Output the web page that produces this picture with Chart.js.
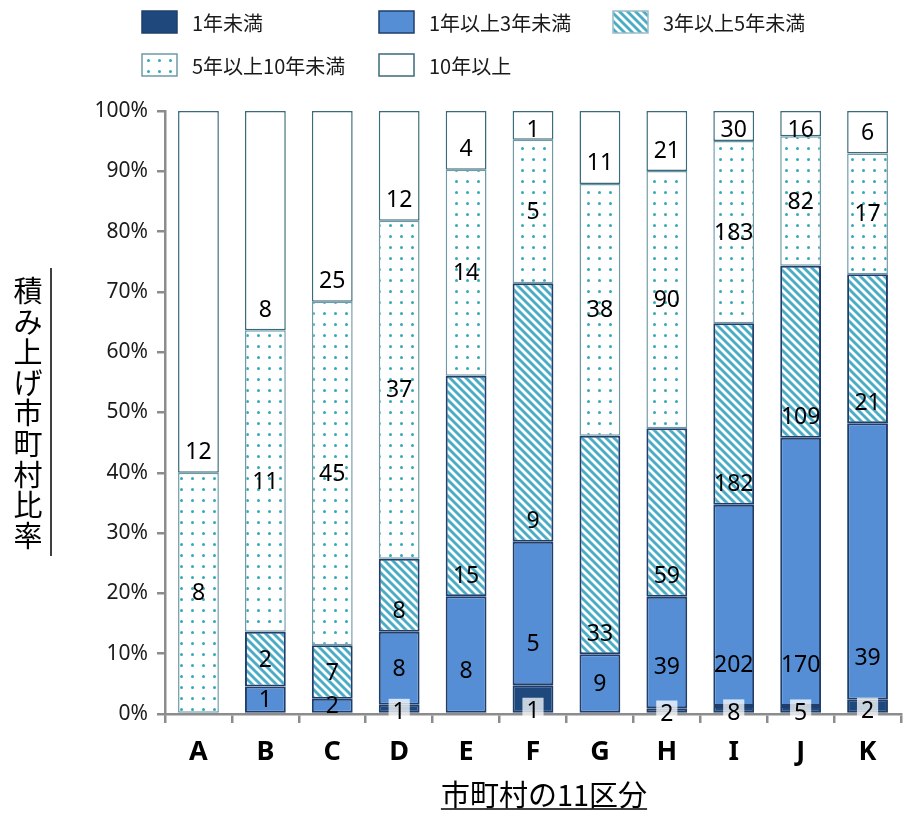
<!DOCTYPE html>
<html>
<head>
<meta charset="utf-8">
<script src="https://cdn.jsdelivr.net/npm/chart.js@4"></script>
<style>
html, body { margin: 0; background: #fff; }
</style>
</head>
<body>
<canvas id="chart" width="916" height="813"></canvas>
<script>
// counts of municipalities per class
const categories = ['A', 'B', 'C', 'D', 'E', 'F', 'G', 'H', 'I', 'J', 'K']
const seriesNames = ['1年未満', '1年以上3年未満', '3年以上5年未満', '5年以上10年未満', '10年以上']
const under1 = [0, 0, 0, 1, 0, 1, 0, 2, 8, 5, 2]
const y1to3 = [0, 1, 2, 8, 8, 5, 9, 39, 202, 170, 39]
const y3to5 = [0, 2, 7, 8, 15, 9, 33, 59, 182, 109, 21]
const y5to10 = [8, 11, 45, 37, 14, 5, 38, 90, 183, 82, 17]
const y10plus = [12, 8, 25, 12, 4, 1, 11, 21, 30, 16, 6]
const yTitle = '積み上げ市町村比率'
const xTitle = '市町村の11区分'

const FONT = '"Noto Sans", "Noto Sans CJK JP", sans-serif'
const JP = '"Noto Sans CJK JP", "Noto Sans", sans-serif'

const counts = [under1, y1to3, y3to5, y5to10, y10plus]
const totals = categories.map((c, i) => counts.reduce((s, arr) => s + arr[i], 0))

function percent(arr) {
    return arr.map((v, i) => v === 0 ? null : v / totals[i] * 100)
}

// ===== patterns =====
function stripePattern() {
    const c = document.createElement('canvas')
    c.width = 8; c.height = 8
    const g = c.getContext('2d')
    g.fillStyle = '#ffffff'
    g.fillRect(0, 0, 8, 8)
    g.strokeStyle = '#4bacc6'
    g.lineWidth = 2.9
    g.beginPath()
    for (let k = -8; k <= 8; k += 8) {
        g.moveTo(k - 2, -2)
        g.lineTo(k + 10, 10)
    }
    g.stroke()
    return g.createPattern(c, 'repeat')
}

function dotPattern() {
    const c = document.createElement('canvas')
    c.width = 11; c.height = 11
    const g = c.getContext('2d')
    g.fillStyle = '#ffffff'
    g.fillRect(0, 0, 11, 11)
    g.fillStyle = '#35a9b8'
    g.beginPath()
    g.arc(5.5, 5.5, 1.5, 0, Math.PI * 2)
    g.fill()
    return g.createPattern(c, 'repeat')
}

const fills = ['#1f497d', '#558ed5', stripePattern(), dotPattern(), '#ffffff']
const borders = ['#1f3e6b', '#1f3e6b', '#1f3e6b', '#6f9aa6', '#3a6b7a']
const borderWidths = [2, 2, 2, 1.5, 1.5]

// where the number sits inside each segment
function labelY(dsIndex, top, bottom) {
    const h = bottom - top
    const mid = top + h / 2
    if (dsIndex === 0) return Math.max(mid + 3, bottom - 2)
    if (dsIndex === 1) return Math.max(mid, bottom - 42)
    if (dsIndex === 2) return h < 60 ? mid : bottom - 21
    if (dsIndex === 4) return Math.max(bottom - 21, top + 18)
    return mid
}

const labelPlugin = {
    id: 'segLabels',
    afterDatasetsDraw(chart) {
        const ctx = chart.ctx
        ctx.save()
        ctx.font = '23px ' + FONT
        ctx.textAlign = 'center'
        ctx.textBaseline = 'middle'
        chart.data.datasets.forEach((ds, di) => {
            const meta = chart.getDatasetMeta(di)
            meta.data.forEach((bar, i) => {
                const n = counts[di][i]
                if (!n) return
                const top = Math.min(bar.y, bar.base)
                const bottom = Math.max(bar.y, bar.base)
                const y = labelY(di, top, bottom)
                const txt = String(n)
                if (di === 0) {
                    const w = ctx.measureText(txt).width + 8
                    ctx.fillStyle = 'rgba(255,255,255,0.75)'
                    ctx.fillRect(bar.x - w / 2, y - 13, w, 26)
                }
                ctx.fillStyle = '#000'
                ctx.fillText(txt, bar.x, y + 1)
            })
        })
        ctx.restore()
    }
}

const decorPlugin = {
    id: 'decor',
    afterDraw(chart) {
        const ctx = chart.ctx
        ctx.save()
        // legend
        const cols = [142, 379, 613]
        const rows = [11, 54]
        ctx.font = '20px ' + JP
        ctx.textBaseline = 'middle'
        ctx.textAlign = 'left'
        seriesNames.forEach((name, i) => {
            const bx = cols[i % 3]
            const by = rows[Math.floor(i / 3)]
            ctx.fillStyle = fills[i]
            ctx.fillRect(bx, by, 35, 22)
            ctx.strokeStyle = i === 2 ? '#9cbcc8' : borders[i]
            ctx.lineWidth = 1.5
            ctx.strokeRect(bx, by, 35, 22)
            ctx.fillStyle = '#1a1a1a'
            ctx.fillText(name, bx + 50, by + 12)
        })

        // y title, stacked characters with a rule on its right
        ctx.font = '29px ' + JP
        ctx.textAlign = 'center'
        ctx.fillStyle = '#000'
        for (let k = 0; k < yTitle.length; k++) {
            ctx.fillText(yTitle[k], 28, 291 + k * 30.6)
        }
        ctx.strokeStyle = '#000'
        ctx.lineWidth = 1.5
        ctx.beginPath()
        ctx.moveTo(51, 268)
        ctx.lineTo(51, 556)
        ctx.stroke()

        // x title, underlined
        ctx.font = '29px ' + JP
        const w = ctx.measureText(xTitle).width
        ctx.fillText(xTitle, 544, 795)
        ctx.beginPath()
        ctx.moveTo(544 - w / 2, 809)
        ctx.lineTo(544 + w / 2, 809)
        ctx.stroke()
        ctx.restore()
    }
}

const chart = new Chart(document.getElementById('chart'), {
    type: 'bar',
    data: {
        labels: categories,
        datasets: counts.map((arr, i) => ({
            label: seriesNames[i],
            data: percent(arr),
            backgroundColor: fills[i],
            borderColor: borders[i],
            borderWidth: borderWidths[i],
            borderSkipped: false,
            barPercentage: 0.61,
            categoryPercentage: 1
        }))
    },
    options: {
        responsive: false,
        animation: false,
        layout: { padding: { top: 111, right: 15, bottom: 0, left: 0 } },
        plugins: {
            legend: { display: false },
            tooltip: { enabled: false }
        },
        scales: {
            x: {
                stacked: true,
                ticks: { font: { size: 27, weight: 'bold', family: FONT }, color: '#000', padding: 13 },
                grid: { drawOnChartArea: false, offset: true, tickLength: 9, color: '#8c8c8c', lineWidth: 2.5 },
                border: { color: '#8c8c8c', width: 2.5 },
                afterFit(s) { s.height = 99 }
            },
            y: {
                stacked: true,
                min: 0,
                max: 100,
                ticks: { stepSize: 10, callback: v => v + '%', font: { size: 21, family: FONT }, color: '#1a1a1a', padding: 9 },
                grid: { drawOnChartArea: false, tickLength: 8, color: '#8c8c8c', lineWidth: 2.5 },
                border: { color: '#8c8c8c', width: 2.5 },
                afterFit(s) { s.width = 165 }
            }
        }
    },
    plugins: [labelPlugin, decorPlugin]
})
</script>
</body>
</html>
